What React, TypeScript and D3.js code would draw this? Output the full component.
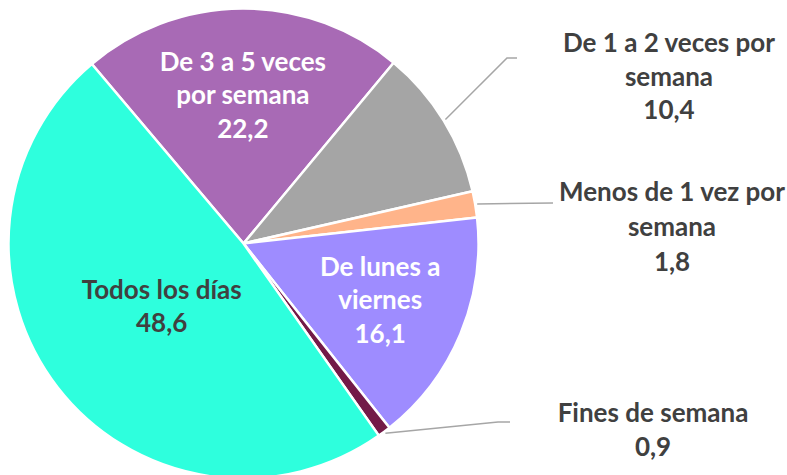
import React from "react"
import * as d3 from "d3"

// slice order, clockwise from the upper-left edge of the purple slice
const categories = [
  "De 3 a 5 veces por semana",
  "De 1 a 2 veces por semana",
  "Menos de 1 vez por semana",
  "De lunes a viernes",
  "Fines de semana",
  "Todos los días",
]
const values = [22.2, 10.4, 1.8, 16.1, 0.9, 48.6]
const valueLabels = ["22,2", "10,4", "1,8", "16,1", "0,9", "48,6"]
const labelLines = [
  ["De 3 a 5 veces", "por semana"],
  ["De 1 a 2 veces por", "semana"],
  ["Menos de 1 vez por", "semana"],
  ["De lunes a", "viernes"],
  ["Fines de semana"],
  ["Todos los días"],
]
const colors = ["#A86AB5", "#A5A5A5", "#FFB48A", "#9E8CFF", "#731A48", "#2EFFDD"]

const W = 787
const H = 475
const cx = 243.5
const cy = 243.5
const radius = 235
const lineH = 33.5
const font = "Lato, 'Open Sans', sans-serif"
const dark = "#404040"

// label placement: inside labels use a radius factor, outside ones an anchor + elbow
const inside: { [k: number]: { k: number; fill: string } } = {
  0: { k: 0.63, fill: "#ffffff" },
  3: { k: 0.63, fill: "#ffffff" },
  5: { k: 0.44, fill: dark },
}
const outside: { [k: number]: { x: number; y: number; elbow: [number, number] | null; end: [number, number] } } = {
  1: { x: 669, y: 52, elbow: [507, 58], end: [517, 58] },
  2: { x: 672, y: 201, elbow: null, end: [553, 203] },
  4: { x: 653, y: 422, elbow: [498, 422], end: [510, 422] },
}

export default function App() {
  const pie = d3
    .pie<number>()
    .sort(null)
    .startAngle((-40.2 * Math.PI) / 180)
    .endAngle((-40.2 * Math.PI) / 180 + 2 * Math.PI)
  const arcs = pie(values)
  const arc = d3.arc<d3.PieArcDatum<number>>().innerRadius(0).outerRadius(radius)

  return (
    <svg width={W} height={H} style={{ position: "absolute", left: 0, top: 0 }} fontFamily={font}>
      <rect width={W} height={H} fill="#ffffff" />
      <g transform={`translate(${cx},${cy})`}>
        {arcs.map((a, i) => (
          <path key={categories[i]} d={arc(a) || ""} fill={colors[i]} stroke="#ffffff" strokeWidth={2.5} strokeLinejoin="round" />
        ))}
      </g>
      {arcs.map((a, i) => {
        const mid = (a.startAngle + a.endAngle) / 2
        const lines = [...labelLines[i], valueLabels[i]]
        if (inside[i]) {
          const r = radius * inside[i].k
          const x = cx + r * Math.sin(mid)
          const y = cy - r * Math.cos(mid)
          return (
            <text key={"l" + i} textAnchor="middle" fontWeight="bold" fontSize={26} fill={inside[i].fill}>
              {lines.map((t, j) => (
                <tspan key={j} x={x} y={y + 9 + (j - (lines.length - 1) / 2) * lineH}>
                  {t}
                </tspan>
              ))}
            </text>
          )
        }
        const o = outside[i]
        const rs = radius + 2
        const sx = cx + rs * Math.sin(mid)
        const sy = cy - rs * Math.cos(mid)
        const pts: [number, number][] = [[sx, sy]]
        if (o.elbow) pts.push(o.elbow)
        pts.push(o.end)
        return (
          <g key={"l" + i}>
            <path d={d3.line()(pts) || ""} fill="none" stroke="#A6A6A6" strokeWidth={1.5} />
            <text textAnchor="middle" fontWeight="bold" fontSize={26} fill={dark}>
              {lines.map((t, j) => (
                <tspan key={j} x={o.x} y={o.y + j * (i === 2 ? 35 : lineH)}>
                  {t}
                </tspan>
              ))}
            </text>
          </g>
        )
      })}
    </svg>
  )
}
